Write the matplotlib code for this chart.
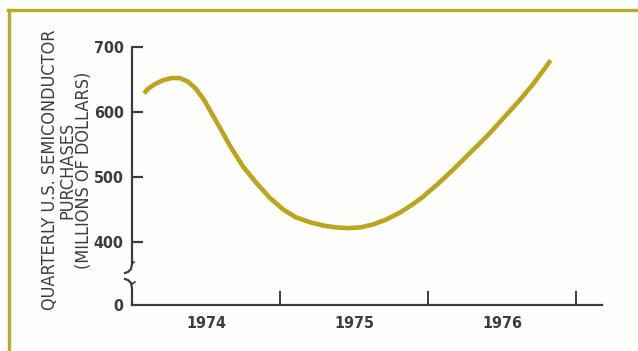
import matplotlib
matplotlib.use('Agg')
import numpy as np
import matplotlib.pyplot as plt
from matplotlib.lines import Line2D

# time in years, purchases in millions of dollars
years = [1974.081, 1974.108, 1974.153, 1974.209, 1974.265, 1974.322,
         1974.378, 1974.432, 1974.486, 1974.541, 1974.595, 1974.662,
         1974.750, 1974.843, 1974.932, 1975.020, 1975.108, 1975.203,
         1975.291, 1975.378, 1975.459, 1975.541, 1975.628, 1975.716,
         1975.811, 1975.899, 1975.959, 1976.061, 1976.169, 1976.284,
         1976.399, 1976.507, 1976.622, 1976.709, 1976.791, 1976.828]
purchases = [629, 636, 643, 649, 652.5, 652.5,
             647, 636, 619, 597, 575.5, 548,
             516, 490, 467.5, 450, 437.5, 430,
             425, 422, 421, 422, 426.5, 434,
             445, 458, 468, 488, 511, 537,
             563, 590, 619, 643, 668, 680]

year_labels = ['1974', '1975', '1976']
ytick_labels = ['0', '400', '500', '600', '700']

ink = '#3c3c3c'
olive = '#bda41f'
border = '#b9aa2a'
bg = '#fefefc'

plt.rcParams['font.family'] = ['DejaVu Sans']
plt.rcParams['font.stretch'] = 'condensed'

fig = plt.figure(figsize=(6.38, 3.51), dpi=100)
fig.patch.set_facecolor(bg)

W, H = 638., 351.
x0, x1 = 132., 602.
y_top, y_bot = 47.3, 305.
ax = fig.add_axes([x0/W, 1 - y_bot/H, (x1 - x0)/W, (y_bot - y_top)/H])
ax.set_facecolor(bg)

# fake zero position below the axis break
px_per_unit = 0.648
zero_pos = 400 - (y_bot - 241.7)/px_per_unit

ax.set_xlim(1974, 1974 + (x1 - x0)/148.)
ax.set_ylim(zero_pos, 700)

ax.plot(years, purchases, color=olive, lw=3.3, solid_capstyle='butt',
        solid_joinstyle='round', clip_on=False)

# axes
for s in ['top', 'right', 'left']:
    ax.spines[s].set_visible(False)
ax.spines['bottom'].set_color(ink)
ax.spines['bottom'].set_linewidth(1.6)

# left axis with break
tr = ax.get_yaxis_transform()
def pxv(y):
    return 400 + (241.7 - y)/px_per_unit
dx = 1/(x1 - x0)
ax.plot([0, 0, -1*dx, -4*dx, -7*dx], [700, pxv(264), pxv(269), pxv(272), pxv(273)],
        color=ink, lw=1.6, transform=tr, clip_on=False)
ax.plot([-7*dx, -4*dx, -1*dx, 0, 0], [pxv(279), pxv(280), pxv(283), pxv(288), zero_pos],
        color=ink, lw=1.6, transform=tr, clip_on=False)
ax.plot([0, 2*dx], [pxv(264), pxv(262)], color=ink, lw=1.2, transform=tr, clip_on=False)
ax.plot([0, 3*dx], [pxv(284), pxv(282)], color=ink, lw=1.2, transform=tr, clip_on=False)

ax.set_yticks([zero_pos, 400, 500, 600, 700])
ax.set_yticklabels(ytick_labels)
ax.tick_params(axis='y', direction='in', length=8, width=1.6, color=ink, pad=6,
               labelsize=11.5, labelcolor=ink)
for lab in ax.get_yticklabels():
    lab.set_fontweight('bold')
ax.yaxis.get_major_ticks()[0].tick1line.set_visible(False)

ax.set_xticks([1975, 1976, 1977])
ax.set_xticklabels([])
ax.set_xticks([1974.5, 1975.5, 1976.5], minor=True)
ax.set_xticklabels(year_labels, minor=True)
ax.tick_params(axis='x', which='major', direction='in', length=10, width=1.4, color=ink)
ax.tick_params(axis='x', which='minor', length=0, pad=8, labelsize=11.5, labelcolor=ink)
for lab in ax.get_xticklabels(minor=True):
    lab.set_fontweight('bold')

fig.text(67/W, 1 - 170/H,
         'QUARTERLY U.S. SEMICONDUCTOR\nPURCHASES\n(MILLIONS OF DOLLARS)',
         rotation=90, ha='center', va='center', multialignment='center',
         fontsize=13, color=ink, linespacing=0.95)

# frame lines along top and left
fig.add_artist(Line2D([8/W, 1], [1 - 9.5/H, 1 - 9.5/H], color=border, lw=2.4))
fig.add_artist(Line2D([9/W, 9/W], [0, 1 - 9.5/H], color=border, lw=2.4))

fig.savefig('out.png', dpi=100, facecolor=fig.get_facecolor())
